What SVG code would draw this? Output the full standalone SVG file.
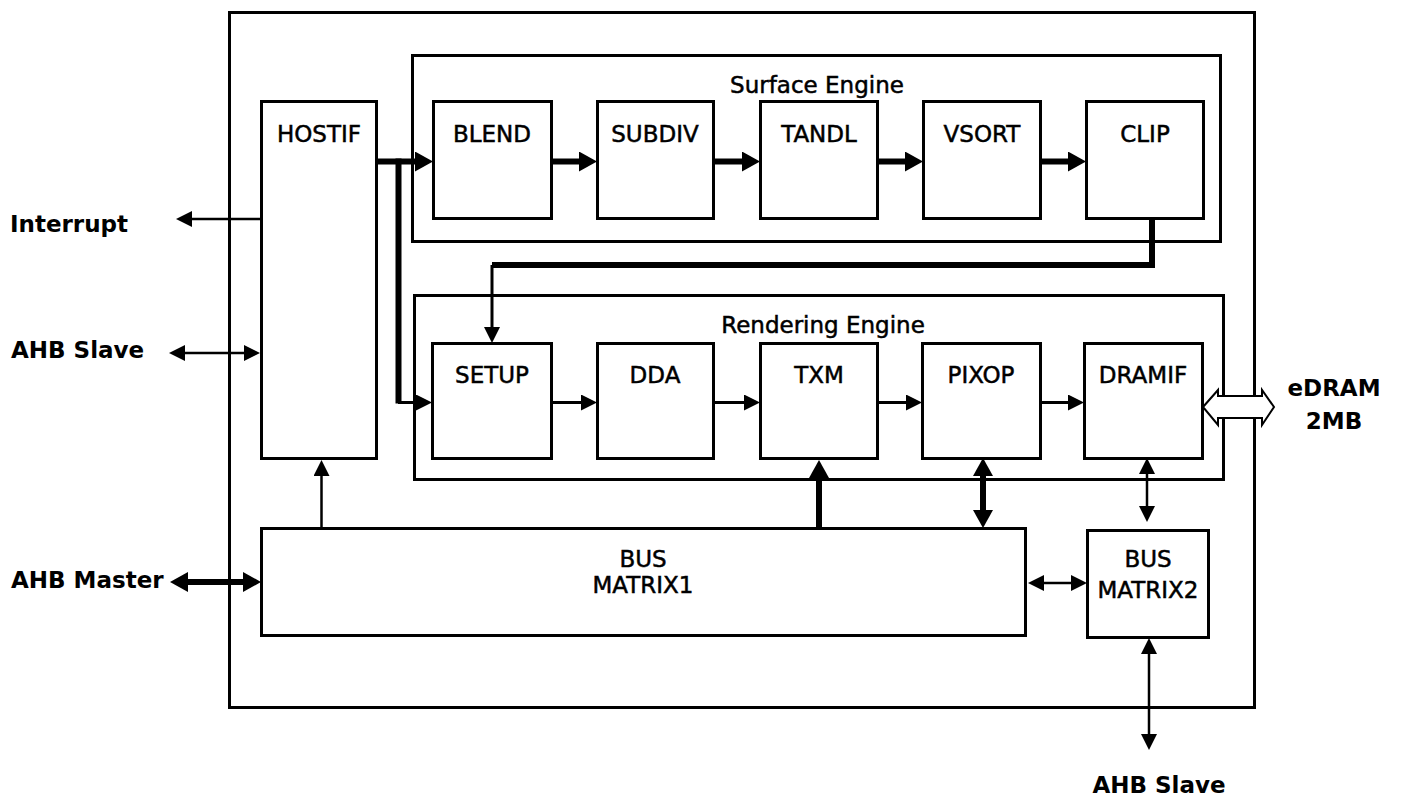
<svg xmlns="http://www.w3.org/2000/svg" width="1405" height="796" viewBox="0 0 1405 796">
<style>
.box{fill:#fff;stroke:#000;stroke-width:3}
.frame{fill:none;stroke:#000;stroke-width:3}
.lbl{font-family:"DejaVu Sans","Liberation Sans",sans-serif;font-size:23px;fill:#000;stroke:#000;stroke-width:0.5;text-anchor:middle}
.ext{font-family:"DejaVu Sans","Liberation Sans",sans-serif;font-size:23px;font-weight:bold;fill:#000}
.thick{fill:none;stroke:#000;stroke-width:6}
.thin{fill:none;stroke:#000;stroke-width:2.5}
.mid{fill:none;stroke:#000;stroke-width:3}
</style>
<defs>
<marker id="hb" viewBox="0 -10 18 20" refX="0" refY="0" markerWidth="18" markerHeight="20" markerUnits="userSpaceOnUse" orient="auto-start-reverse">
<path d="M0,-10 L18,0 L0,10 Z" fill="#000"/>
</marker>
<marker id="hs" viewBox="0 -8 16 16" refX="0" refY="0" markerWidth="16" markerHeight="16" markerUnits="userSpaceOnUse" orient="auto-start-reverse">
<path d="M0,-8 L16,0 L0,8 Z" fill="#000"/>
</marker>
</defs>
<rect width="1405" height="796" fill="#fff"/>
<g id="chip"><rect class="frame" x="229.5" y="12.5" width="1025" height="695"/></g>
<g id="surface-engine"><rect class="frame" x="412.5" y="55.5" width="808" height="186"/><text class="lbl" x="817" y="93">Surface Engine</text></g>
<g id="rendering-engine"><rect class="frame" x="414.5" y="295.5" width="809" height="184"/><text class="lbl" x="823" y="333">Rendering Engine</text></g>
<g id="hostif"><rect class="box" x="261.5" y="101.5" width="115" height="357"/><text class="lbl" x="319" y="142">HOSTIF</text></g>
<g id="blend"><rect class="box" x="433.5" y="101.5" width="118" height="117"/><text class="lbl" x="492" y="142">BLEND</text></g>
<g id="subdiv"><rect class="box" x="597.5" y="101.5" width="116" height="117"/><text class="lbl" x="655" y="142">SUBDIV</text></g>
<g id="tandl"><rect class="box" x="760.5" y="101.5" width="117" height="117"/><text class="lbl" x="819" y="142">TANDL</text></g>
<g id="vsort"><rect class="box" x="923.5" y="101.5" width="117" height="117"/><text class="lbl" x="982" y="142">VSORT</text></g>
<g id="clip"><rect class="box" x="1086.5" y="101.5" width="117" height="117"/><text class="lbl" x="1145" y="142">CLIP</text></g>
<g id="setup"><rect class="box" x="432.5" y="343.5" width="119" height="115"/><text class="lbl" x="492" y="383">SETUP</text></g>
<g id="dda"><rect class="box" x="597.5" y="343.5" width="116" height="115"/><text class="lbl" x="655" y="383">DDA</text></g>
<g id="txm"><rect class="box" x="760.5" y="343.5" width="117" height="115"/><text class="lbl" x="819" y="383">TXM</text></g>
<g id="pixop"><rect class="box" x="922.5" y="343.5" width="118" height="115"/><text class="lbl" x="981" y="383">PIXOP</text></g>
<g id="dramif"><rect class="box" x="1084.5" y="343.5" width="118" height="115"/><text class="lbl" x="1143" y="383">DRAMIF</text></g>
<g id="busmatrix1"><rect class="box" x="261.5" y="528.5" width="764" height="107"/><text class="lbl" x="643" y="567">BUS</text><text class="lbl" x="643" y="593">MATRIX1</text></g>
<g id="busmatrix2"><rect class="box" x="1087.5" y="530.5" width="121" height="107"/><text class="lbl" x="1148" y="567">BUS</text><text class="lbl" x="1148" y="598">MATRIX2</text></g>
<g id="labels">
<text class="ext" x="10" y="232">Interrupt</text>
<text class="ext" x="11" y="358">AHB Slave</text>
<text class="ext" x="11" y="588">AHB Master</text>
<text class="ext" x="1334" y="396" text-anchor="middle">eDRAM</text>
<text class="ext" x="1334" y="429" text-anchor="middle">2MB</text>
<text class="ext" x="1159" y="793" text-anchor="middle">AHB Slave</text>
</g>
<g id="connectors">
<line class="thick" x1="376" y1="161.5" x2="415" y2="161.5" marker-end="url(#hb)"/>
<line class="thick" x1="398.5" y1="158.5" x2="398.5" y2="403.5" stroke-width="7"/>
<line class="mid" x1="398" y1="402.5" x2="416" y2="402.5" marker-end="url(#hs)"/>
<line class="thick" x1="551" y1="161.5" x2="579" y2="161.5" marker-end="url(#hb)"/>
<line class="thick" x1="713" y1="161.5" x2="742" y2="161.5" marker-end="url(#hb)"/>
<line class="thick" x1="877" y1="161.5" x2="905" y2="161.5" marker-end="url(#hb)"/>
<line class="thick" x1="1040" y1="161.5" x2="1068" y2="161.5" marker-end="url(#hb)"/>
<line class="mid" x1="551" y1="402.5" x2="581" y2="402.5" marker-end="url(#hs)"/>
<line class="mid" x1="713" y1="402.5" x2="744" y2="402.5" marker-end="url(#hs)"/>
<line class="mid" x1="877" y1="402.5" x2="906" y2="402.5" marker-end="url(#hs)"/>
<line class="mid" x1="1040" y1="402.5" x2="1068" y2="402.5" marker-end="url(#hs)"/>
<path class="thick" d="M1152,218 V265 H492" stroke-width="7" stroke-linejoin="miter"/>
<line class="mid" x1="492" y1="265" x2="492" y2="327" marker-end="url(#hs)"/>
<line class="thin" x1="261" y1="219" x2="192" y2="219" marker-end="url(#hs)"/>
<line class="thin" x1="185" y1="353" x2="244" y2="353" marker-start="url(#hs)" marker-end="url(#hs)"/>
<line class="thick" x1="188" y1="582" x2="243" y2="582" stroke-width="5" marker-start="url(#hb)" marker-end="url(#hb)"/>
<line class="thin" x1="321.5" y1="528" x2="321.5" y2="476" marker-end="url(#hs)"/>
<line class="thick" x1="819" y1="530" x2="819" y2="478" marker-end="url(#hb)"/>
<line class="thick" x1="983" y1="476" x2="983" y2="510" marker-start="url(#hb)" marker-end="url(#hb)"/>
<line class="thin" x1="1147" y1="474" x2="1147" y2="506" marker-start="url(#hs)" marker-end="url(#hs)"/>
<line class="thin" x1="1044" y1="583" x2="1071" y2="583" marker-start="url(#hs)" marker-end="url(#hs)"/>
<line class="thin" x1="1149" y1="654" x2="1149" y2="734" marker-start="url(#hs)" marker-end="url(#hs)"/>
<polygon points="1203,407 1218,390 1218,396 1262,396 1262,390 1274,407 1262,425 1262,418 1218,418 1218,425" fill="#fff" stroke="#000" stroke-width="2"/>
</g>
</svg>
